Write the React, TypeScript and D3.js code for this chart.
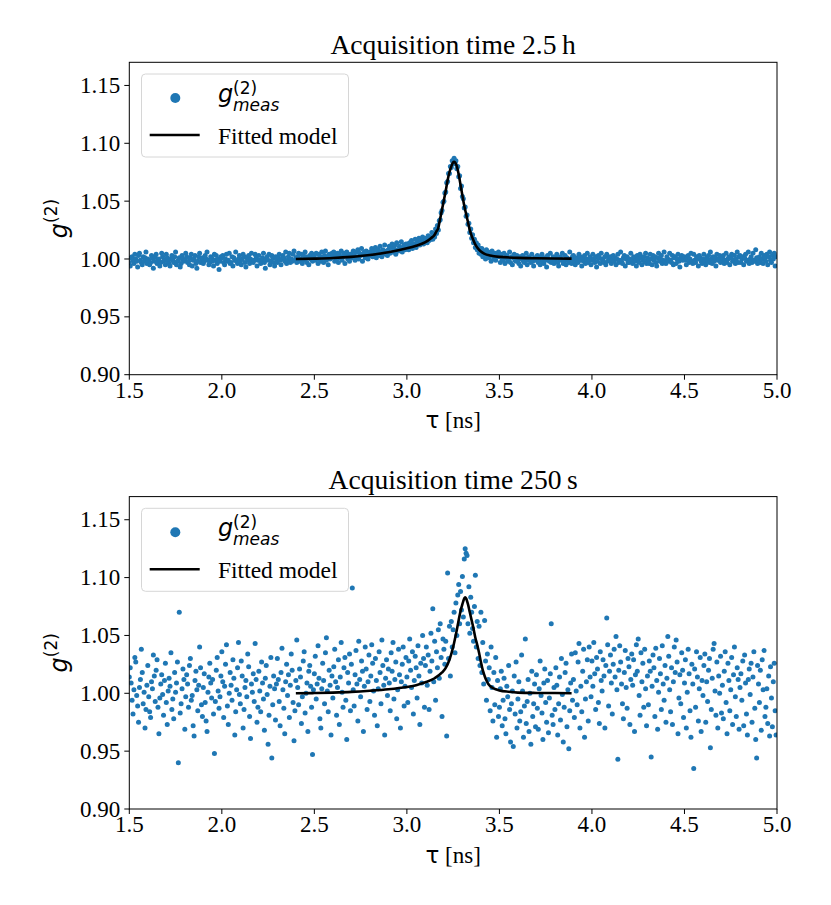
import React from 'react';
import * as d3 from 'd3';

// histogram bin grid of the correlator [ns]
const tauStart = 1.5;
const binWidth = 0.005;

// measured g2 per bin, stored as (g2 - 1) * 1000; one row = 20 bins = 0.1 ns
const g2Long = [
  -3, -6, 1, 2, -1, -4, 4, 0, -2, -7, 3, 5, -1, -3, -5, 2, -2, 1, 6, -4,
  0, -1, -5, -3, 3, 1, -8, -2, 2, 4, -4, -1, 0, -6, -3, 5, 2, -2, -1, -5,
  4, 1, -2, -4, -6, 0, 3, -1, -3, 2, 6, -5, -2, -1, 1, -7, -4, 3, 0, -2,
  -1, 5, 2, -3, -2, -5, 1, 4, -6, -1, 0, 3, -4, -8, -2, 2, 5, -3, -1, 1,
  -4, -2, 3, 0, 6, -1, -5, -3, 2, 1, -2, -6, 4, -1, 3, -4, 0, -9, -2, 2,
  1, 3, -3, -5, 0, 4, -2, -1, 5, -4, -3, 2, -6, 1, -1, 6, -2, -4, 0, 3,
  -2, -5, 0, 4, 2, -3, -7, 1, -1, 3, -4, 0, 5, -2, -3, -1, 4, 2, -6, -1,
  3, -1, -4, -2, 1, 5, -3, -8, 0, 2, -1, 4, -5, -2, 3, 1, -3, -6, 2, 0,
  -3, 2, 4, -1, -5, 0, 3, 1, -2, 6, -4, -1, 2, 5, -3, 0, -2, 4, 7, -1,
  1, -3, 2, 5, -2, 0, 4, -4, 3, -1, 6, 2, -3, 1, -5, 3, 0, 5, -2, 2,
  3, -1, 5, 0, -4, 4, 2, -2, 6, 1, -3, 3, 7, -1, 2, -5, 4, 0, 1, 5,
  2, 6, -2, 3, 0, 5, -3, 4, 1, 7, -1, 2, 5, -4, 3, 6, 0, 2, -2, 4,
  4, 1, 7, 3, -1, 6, 2, 8, 0, 5, 3, 9, -2, 4, 6, 1, 7, 3, 0, 5,
  6, 3, 9, 2, 7, 4, 10, 1, 5, 8, 3, 11, 6, 2, 8, 5, 12, 4, 7, 3,
  8, 11, 5, 10, 13, 6, 9, 12, 4, 14, 8, 7, 11, 9, 15, 6, 10, 12, 8, 13,
  10, 13, 8, 14, 11, 16, 9, 13, 12, 17, 10, 15, 13, 18, 12, 16, 14, 19, 13, 17,
  15, 18, 14, 20, 16, 19, 17, 23, 17, 22, 19, 26, 22, 29, 25, 33, 34, 40, 42, 49,
  50, 57, 58, 66, 67, 74, 74, 80, 79, 85, 82, 87, 83, 85, 78, 80, 71, 72, 61, 63,
  54, 52, 44, 45, 37, 38, 30, 31, 23, 26, 18, 21, 14, 17, 10, 14, 8, 12, 5, 9,
  4, 9, 2, 7, 5, 0, 8, 3, 6, 1, 4, -2, 7, 3, 0, 5, -1, 4, 2, 6,
  2, -3, 4, 0, -1, 5, -4, 1, 3, -2, 0, 6, -3, 2, -5, 1, 4, -1, -2, 3,
  -1, -4, 2, -6, 0, 3, -2, -3, 1, 5, -5, -1, 2, 0, -3, 4, -2, -6, 1, -1,
  0, 3, -3, -1, -5, 2, 4, -2, -4, 1, -1, -7, 3, 0, -2, 5, -3, -1, 2, -4,
  -2, 1, 4, -3, -6, 0, 2, -1, 5, -4, -2, 3, -5, 1, -1, -3, 6, 0, -4, 2,
  3, -2, -5, 1, 0, -3, 4, 2, -1, -6, 1, -2, 3, -4, 0, 5, -3, -1, 2, -5,
  -1, 4, 0, -3, 2, -7, -2, 3, 1, -4, 5, 0, -1, -3, 2, -5, 4, -2, 1, -1,
  2, -4, -1, 3, -2, 1, -5, 0, 4, -3, -1, 6, -2, -4, 1, 3, -6, 0, 2, -3,
  -3, 0, 5, -1, -4, 2, 1, -2, -6, 3, 0, -3, 4, 1, -5, -1, 2, -2, 5, -4,
  1, -2, -4, 4, 0, -5, 3, -1, 2, -3, -6, 1, 5, -2, 0, 3, -4, -1, 6, -2,
  -4, 2, 0, -2, 5, -1, -3, 3, -5, 1, 2, -4, 0, 4, -2, -7, 1, 3, -1, 0,
  2, -1, -5, 1, 3, -3, 0, 5, -2, -4, 4, -1, -3, 2, 0, -6, 3, 1, -2, -4,
  0, 4, -2, -5, 1, -1, 3, -3, 6, 0, -4, 2, -2, 1, -6, 4, -1, 0, 3, -3,
  -2, 1, 3, -4, -1, 5, -3, 0, 2, -5, 1, 4, -2, -1, 3, -4, 0, 6, -3, 2,
  3, -3, 0, 2, -5, 1, 4, -2, -1, 6, -4, 0, 2, -3, 5, -1, -2, 8, 1, -4,
  -1, 2, -3, 5, 0, -4, 3, 1, -2, 4, -5, 2, 6, -1, -3, 3, 0, 5, -6, 2,
];

const g2Short = [
  14, 22, 9, -6, -18, 3, 31, 27, -2, -11, -25, 5, 12, 38, 18, -9, 1, -30, -14, 7,
  24, -3, -16, -21, 10, 4, 33, 15, -7, 20, 29, -12, -35, -4, 8, 16, -1, -19, 11, 26,
  -8, -27, 2, 13, 6, 35, -14, -5, -22, 18, 1, 9, 27, -60, 70, -17, -9, 4, 21, 12,
  -31, -3, 16, 8, -12, 24, 30, -6, -2, -28, -37, 11, 19, 3, -15, 7, 40, 22, -10, -20,
  5, 17, -8, -24, -33, 1, 14, 26, 9, -4, 12, -18, -52, -7, 20, 31, 2, -13, -3, 15,
  36, 10, -21, 6, 25, 42, -11, -27, 0, 18, 7, -6, 29, 13, -36, -16, 3, 22, 44, -1,
  -9, 28, 15, -30, -14, 5, 11, -3, 34, 23, -20, -39, 8, 1, 17, -7, 43, 12, -25, -12,
  19, 2, -16, 27, 9, -5, -32, 13, 24, -1, -44, -19, 6, 31, -56, -10, 15, 4, -23, 8,
  30, 12, -7, -28, 18, 39, 3, -13, -35, 10, 25, -2, 16, -21, 7, 34, 20, -8, -41, -15,
  11, 46, 5, -10, 21, 14, -26, -3, 28, 36, -17, 0, 9, -33, 19, 24, 6, -12, -53, 3,
  17, 32, -5, 8, 41, 13, -22, -30, 4, 26, 11, -9, 35, 48, 2, -16, 20, 7, -36, 15,
  -4, 23, 38, 10, -19, 5, 29, -27, 14, 44, 1, -12, 22, 31, -6, -40, 18, 9, 34, -15,
  25, 91, 3, -11, 16, 37, 8, -24, 45, 12, -3, 28, 19, -33, 6, 40, 21, -14, 10, 33,
  -7, 15, 42, 26, 2, -19, 30, 11, -28, 4, 36, 18, -9, 46, 24, 7, -36, 13, 29, -2,
  21, 9, -15, 35, 19, 44, -5, 12, 27, -22, 3, 38, 16, -30, 10, 25, 40, -11, 6, 31,
  14, -8, 28, 47, 20, 5, 36, -18, 11, 32, 22, -4, 41, 15, -27, 26, 9, 50, 30, -12,
  24, 40, 7, 33, -14, 19, 52, 28, 73, 10, 45, -6, 36, 22, 55, 13, 60, 31, -20, 47,
  38, 25, 45, -37, 104, 30, 58, 15, 62, 40, 55, 70, 35, 78, 50, 85, 94, 60, 88, 72,
  101, 66, 116, 125, 121, 119, 60, 92, 52, 83, 70, 56, 45, 75, 102, 40, 62, 30, 58, 24,
  70, 18, 44, 8, 63, 28, -6, 34, 12, 22, -15, 40, 5, -24, 18, -10, 31, -38, 11, -20,
  -12, 4, 19, -28, -6, 13, -22, -35, 6, -3, 24, -14, -42, -9, 2, -46, 15, -18, 27, -30,
  -5, 10, -24, -16, 33, 2, -38, -11, 47, -26, -7, 12, -33, 0, -44, 19, -20, -9, 8, -29,
  16, -13, -31, 4, 28, -2, -17, -40, 9, 21, -8, -25, 11, -34, -4, 17, 60, -19, -27, 5,
  -14, 22, 7, -36, -9, 14, -23, 30, -1, -42, -12, 18, 26, -29, 3, -48, -15, 9, 34, -6,
  12, -21, 35, 2, -10, 27, 43, -30, 6, -16, 19, 38, -38, -5, 10, 29, -24, 40, 14, -3,
  28, 6, 44, 17, -14, 31, 21, -8, -26, 36, 11, 2, 29, 15, -30, 24, 65, 42, -11, 19,
  33, 9, -18, 25, 38, 14, 49, 3, -57, 20, 41, 27, 8, -9, -22, 18, 37, 5, -13, 30,
  23, -27, 12, 34, 7, 29, -33, 16, 42, 19, 47, -2, -19, 35, 10, 26, -12, 38, 4, -28,
  15, -10, 28, 19, -55, 6, 33, 22, -20, 39, 11, -31, 1, 30, 17, -14, 41, 8, -6, 24,
  -25, 13, 49, 32, 3, -16, 22, -27, 10, 40, 18, 46, 27, -35, -4, 16, -9, 35, 20, -21,
  9, 29, -30, 1, 38, 17, -15, -38, 25, 8, -65, 21, -12, 36, 14, -24, 4, 31, -33, 11,
  -2, 24, 34, -25, 10, -7, 20, 30, -47, -14, 13, 38, 43, 2, -19, 27, -30, 15, 0, 32,
  -17, 7, -22, 19, 36, -8, -35, 26, 11, -15, 3, 31, -27, 16, 40, -3, -20, 22, 12, -31,
  5, 17, -6, 28, -28, 33, 9, -18, -36, 12, 21, -1, 26, -25, 14, 36, -13, -40, -56, 24,
  8, -8, 20, -32, 29, 3, 37, -20, -12, 4, -26, 15, -37, 23, -4, -29, 10, 26, -15, -36,
];

// fitted model curves
const fitTauLong = [2.4, 2.5, 2.6, 2.7, 2.8, 2.9, 3.0, 3.05, 3.1, 3.13, 3.15, 3.16, 3.17, 3.175, 3.18,
  3.19, 3.2, 3.21, 3.22, 3.23, 3.24, 3.25, 3.255, 3.26, 3.27, 3.28, 3.29, 3.3, 3.31, 3.32, 3.33,
  3.34, 3.35, 3.36, 3.37, 3.38, 3.4, 3.42, 3.45, 3.5, 3.6, 3.7, 3.8, 3.89];
const fitLong = [1.0, 1.0003, 1.0008, 1.0018, 1.0035, 1.0058, 1.0092, 1.0115, 1.0145, 1.018, 1.021,
  1.024, 1.027, 1.031, 1.035, 1.043, 1.051, 1.059, 1.068, 1.075, 1.08, 1.0835, 1.084, 1.0835, 1.08,
  1.073, 1.064, 1.055, 1.046, 1.039, 1.032, 1.025, 1.02, 1.016, 1.0125, 1.01, 1.0065, 1.0045, 1.003,
  1.0018, 1.001, 1.0006, 1.0004, 1.0003];

const fitTauShort = [2.4, 2.5, 2.6, 2.7, 2.8, 2.9, 3.0, 3.05, 3.1, 3.15, 3.19, 3.21, 3.23, 3.25, 3.27,
  3.29, 3.3, 3.31, 3.315, 3.32, 3.33, 3.34, 3.35, 3.36, 3.37, 3.38, 3.39, 3.4, 3.41, 3.42, 3.43,
  3.44, 3.46, 3.48, 3.5, 3.55, 3.6, 3.7, 3.8, 3.89];
const fitShort = [1.0, 1.0002, 1.0006, 1.0012, 1.0022, 1.0035, 1.0055, 1.007, 1.0095, 1.013, 1.018,
  1.022, 1.029, 1.04, 1.055, 1.071, 1.077, 1.082, 1.083, 1.082, 1.077, 1.07, 1.063, 1.056, 1.048,
  1.042, 1.035, 1.027, 1.02, 1.015, 1.011, 1.008, 1.005, 1.0035, 1.0025, 1.0013, 1.0006, 1.0003,
  1.0002, 1.0001];

const titles = ['Acquisition time 2.5\u2009h', 'Acquisition time 250\u2009s'];
const xTicks = [1.5, 2.0, 2.5, 3.0, 3.5, 4.0, 4.5, 5.0];
const yTicks = [0.9, 0.95, 1.0, 1.05, 1.1, 1.15];

const BLUE = '#1f77b4';
const SERIF = "'Liberation Serif', 'Times New Roman', serif";
const MATH = "'DejaVu Sans', sans-serif";

const LEFT = 129.3;
const RIGHT = 777;
const H = 312.4;

const x = d3.scaleLinear().domain([1.5, 5.0]).range([LEFT, RIGHT]);
const fmtX = d3.format('.1f');
const fmtY = d3.format('.2f');

interface PanelProps {
  id: number;
  top: number;
  title: string;
  meas: number[];
  fitTau: number[];
  fit: number[];
}

const Panel: React.FC<PanelProps> = ({ id, top, title, meas, fitTau, fit }) => {
  const y = d3.scaleLinear().domain([0.9, 1.17]).range([top + H, top]);
  const bottom = top + H;
  const pts = meas.map((v, i) => ({ tau: tauStart + i * binWidth, g2: 1 + v / 1000 }));
  const line = d3
    .line<number>()
    .x((d, i) => x(fitTau[i]))
    .y((d) => y(d))
    .curve(d3.curveMonotoneX);
  const clipId = 'plot-clip-' + id;
  const lx = LEFT + 12.2;
  const ly = top + 11.7;

  return (
    <g>
      <clipPath id={clipId}>
        <rect x={LEFT} y={top} width={RIGHT - LEFT} height={H} />
      </clipPath>

      <g clipPath={`url(#${clipId})`}>
        {pts.map((d, i) => (
          <circle key={i} cx={x(d.tau)} cy={y(d.g2)} r={2.5} fill={BLUE} />
        ))}
        <path d={line(fit) || ''} fill="none" stroke="#000" strokeWidth={2.6} strokeLinejoin="round" />
      </g>

      {/* ticks */}
      {xTicks.map((t) => (
        <g key={'x' + t}>
          <line x1={x(t)} x2={x(t)} y1={bottom} y2={bottom + 5} stroke="#000" strokeWidth={1} />
          <text x={x(t)} y={bottom + 23} textAnchor="middle" fontFamily={SERIF} fontSize={23}>
            {fmtX(t)}
          </text>
        </g>
      ))}
      {yTicks.map((t) => (
        <g key={'y' + t}>
          <line x1={LEFT - 5} x2={LEFT} y1={y(t)} y2={y(t)} stroke="#000" strokeWidth={1} />
          <text x={LEFT - 9} y={y(t)} dy="0.33em" textAnchor="end" fontFamily={SERIF} fontSize={23}>
            {fmtY(t)}
          </text>
        </g>
      ))}

      <rect x={LEFT} y={top} width={RIGHT - LEFT} height={H} fill="none" stroke="#000" strokeWidth={1} />

      <text x={(LEFT + RIGHT) / 2} y={top - 8} textAnchor="middle" fontFamily={SERIF} fontSize={27.6}>
        {title}
      </text>

      <text x={(LEFT + RIGHT) / 2} y={bottom + 53.5} textAnchor="middle" fontSize={23}>
        <tspan fontFamily={MATH}>{'\u03c4'}</tspan>
        <tspan fontFamily={SERIF}>{' [ns]'}</tspan>
      </text>

      <text transform={`translate(67,${top + H / 2}) rotate(-90)`} textAnchor="middle" fontFamily={MATH}>
        <tspan fontSize={24} fontStyle="italic">g</tspan>
        <tspan fontSize={17} dy={-10}>(2)</tspan>
      </text>

      {/* legend */}
      <g transform={`translate(${lx},${ly})`}>
        <rect width={207} height={83} rx={4} fill="#fff" fillOpacity={0.8} stroke="#d6d6d6" strokeWidth={1} />
        <circle cx={33.8} cy={24} r={5} fill={BLUE} />
        <text x={76.5} y={28} fontFamily={MATH}>
          <tspan fontSize={24} fontStyle="italic">g</tspan>
          <tspan x={91.5} y={20} fontSize={17}>(2)</tspan>
          <tspan x={91.5} y={37} fontSize={17} fontStyle="italic">meas</tspan>
        </text>
        <line x1={8.2} x2={58.2} y1={61} y2={61} stroke="#000" strokeWidth={2.6} />
        <text x={76.5} y={70} fontFamily={SERIF} fontSize={23.5}>
          Fitted model
        </text>
      </g>
    </g>
  );
};

const App: React.FC = () => (
  <svg width={831} height={905} style={{ position: 'absolute', left: 0, top: 0, background: '#fff' }}>
    <Panel id={0} top={62.3} title={titles[0]} meas={g2Long} fitTau={fitTauLong} fit={fitLong} />
    <Panel id={1} top={496.6} title={titles[1]} meas={g2Short} fitTau={fitTauShort} fit={fitShort} />
  </svg>
);

export default App;
